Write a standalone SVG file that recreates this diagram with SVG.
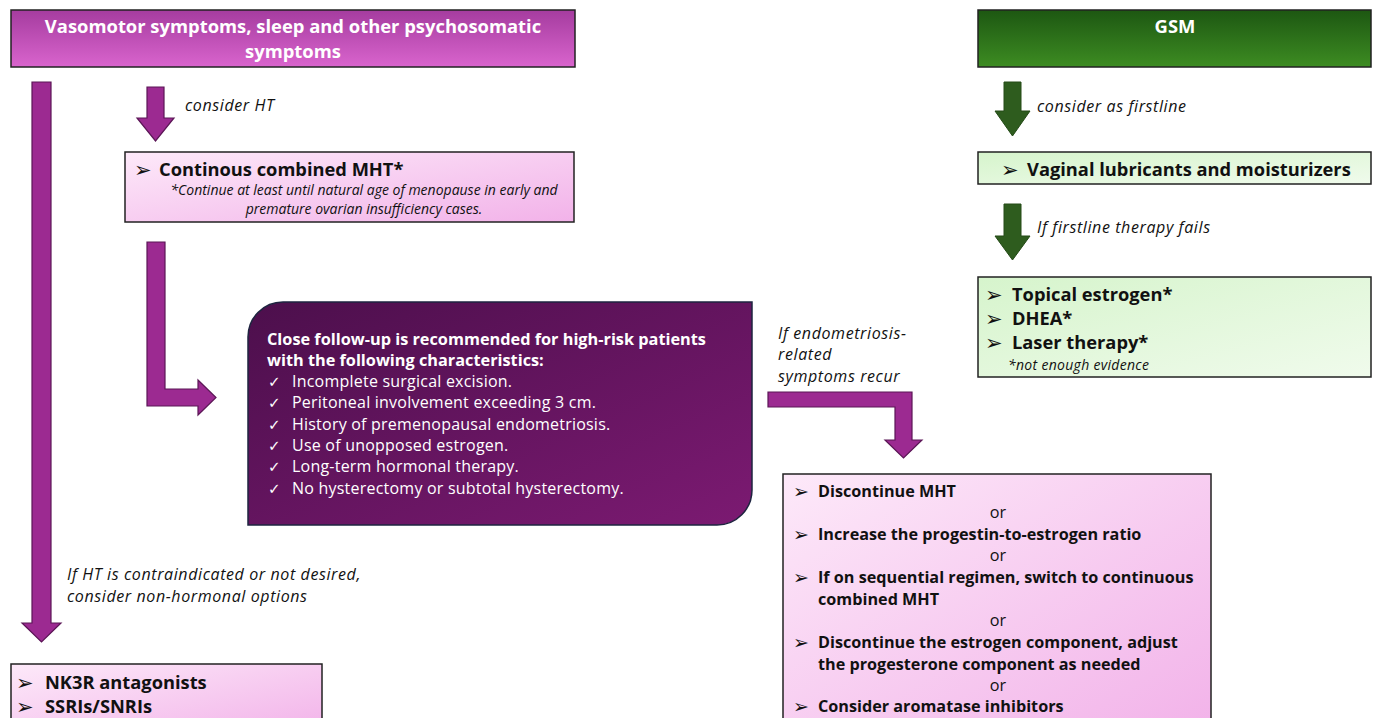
<svg xmlns="http://www.w3.org/2000/svg" width="1378" height="718" viewBox="0 0 1378 718">
<defs>
<linearGradient id="gHead" x1="0" y1="0" x2="0" y2="1"><stop offset="0" stop-color="#a53c9f"/><stop offset="1" stop-color="#d964cd"/></linearGradient>
<linearGradient id="gGreen" x1="0" y1="0" x2="0" y2="1"><stop offset="0" stop-color="#1d5712"/><stop offset="1" stop-color="#3d8c22"/></linearGradient>
<linearGradient id="gPink" x1="0" y1="0" x2="1" y2="1"><stop offset="0" stop-color="#fde9f9"/><stop offset="1" stop-color="#f2b2e9"/></linearGradient>
<linearGradient id="gLight" x1="0" y1="0" x2="1" y2="1"><stop offset="0" stop-color="#d6f4cc"/><stop offset="1" stop-color="#f0fbec"/></linearGradient>
<linearGradient id="gDark" x1="0" y1="0" x2="1" y2="1"><stop offset="0" stop-color="#4c0f4c"/><stop offset="1" stop-color="#7c1a72"/></linearGradient>
</defs>
<style>
.box{stroke:#222;stroke-width:1.5}
.ap{fill:#9c2a91;stroke:#5b1656;stroke-width:1.2}
.ag{fill:#2e5c1e;stroke:#244a17;stroke-width:1}
.t{font-family:"Open Sans","Liberation Sans",Arial,sans-serif;fill:#111}
.b{font-weight:bold}
.i{font-style:italic}
.w{fill:#fff}
.lbl{font-size:16px;letter-spacing:0.6px}
.bul{font-family:"DejaVu Sans",sans-serif;fill:#111}
.chk{font-family:"DejaVu Sans",sans-serif;fill:#fff}
.big{font-size:18.3px}
</style>

<g id="connectors">
  <polygon class="ap" points="32,82 51,82 51,623 61,623 41.5,642 22,623 32,623"/>
  <polygon class="ap" points="147,87 164,87 164,118 174,118 155.5,141 137,118 147,118"/>
  <polygon class="ap" points="147,242 165,242 165,389 198,389 198,380 216,397.5 198,415 198,406 147,406"/>
  <polygon class="ap" points="768,392 912,392 912,440 922,440 903.5,458 885,440 895,440 895,407 768,407"/>
  <polygon class="ag" points="1004,82 1021,82 1021,111 1030,111 1012.5,136 995,111 1004,111"/>
  <polygon class="ag" points="1004,204 1021,204 1021,236 1030,236 1012.5,260 995,236 1004,236"/>
  <text class="t i lbl" x="185" y="111">consider HT</text>
  <text class="t i lbl" x="67" y="580">If HT is contraindicated or not desired,</text>
  <text class="t i lbl" x="67" y="602">consider non-hormonal options</text>
  <text class="t i lbl" x="778" y="339">If endometriosis-</text>
  <text class="t i lbl" x="778" y="360">related</text>
  <text class="t i lbl" x="778" y="382">symptoms recur</text>
  <text class="t i lbl" x="1037" y="112">consider as firstline</text>
  <text class="t i lbl" x="1037" y="233">If firstline therapy fails</text>
</g>

<g id="vasomotor">
  <rect class="box" x="11" y="10" width="564" height="57" fill="url(#gHead)"/>
  <text class="t b w" x="293" y="33" font-size="18.4" text-anchor="middle">Vasomotor symptoms, sleep and other psychosomatic</text>
  <text class="t b w" x="293" y="58" font-size="18.4" text-anchor="middle">symptoms</text>
</g>

<g id="gsm">
  <rect class="box" x="978" y="10" width="393" height="57" fill="url(#gGreen)"/>
  <text class="t b w" x="1175" y="33" font-size="18.4" text-anchor="middle">GSM</text>
</g>

<g id="mht">
  <rect class="box" x="125" y="152" width="449" height="70" fill="url(#gPink)"/>
  <text class="bul" x="134" y="177" font-size="21">➢</text>
  <text class="t b big" x="159" y="176">Continous combined MHT*</text>
  <text class="t i" x="364" y="195" font-size="14" text-anchor="middle">*Continue at least until natural age of menopause in early and</text>
  <text class="t i" x="364" y="214" font-size="14" text-anchor="middle">premature ovarian insufficiency cases.</text>
</g>

<g id="followup">
  <path d="M283,302 H752 V490 A35,35 0 0 1 717,525 H248 V337 A35,35 0 0 1 283,302 Z" fill="url(#gDark)" stroke="#1e2440" stroke-width="1.5"/>
  <text class="t b w" x="267" y="345" font-size="16.3">Close follow-up is recommended for high-risk patients</text>
  <text class="t b w" x="267" y="366" font-size="16.3">with the following characteristics:</text>
  <g font-size="16">
    <text class="chk" x="268" y="387" font-size="15">✓</text><text class="t w" x="292" y="387" letter-spacing="0.22">Incomplete surgical excision.</text>
    <text class="chk" x="268" y="408" font-size="15">✓</text><text class="t w" x="292" y="408" letter-spacing="0.22">Peritoneal involvement exceeding 3 cm.</text>
    <text class="chk" x="268" y="430" font-size="15">✓</text><text class="t w" x="292" y="430" letter-spacing="0.22">History of premenopausal endometriosis.</text>
    <text class="chk" x="268" y="451" font-size="15">✓</text><text class="t w" x="292" y="451" letter-spacing="0.22">Use of unopposed estrogen.</text>
    <text class="chk" x="268" y="472" font-size="15">✓</text><text class="t w" x="292" y="472" letter-spacing="0.22">Long-term hormonal therapy.</text>
    <text class="chk" x="268" y="494" font-size="15">✓</text><text class="t w" x="292" y="494" letter-spacing="0.22">No hysterectomy or subtotal hysterectomy.</text>
  </g>
</g>

<g id="recur-options">
  <rect class="box" x="783" y="474" width="428" height="260" fill="url(#gPink)"/>
  <g font-size="16.2">
    <text class="bul" x="793" y="498" font-size="19">➢</text><text class="t b" x="818" y="497">Discontinue MHT</text>
    <text class="t" x="998" y="518" text-anchor="middle">or</text>
    <text class="bul" x="793" y="541" font-size="19">➢</text><text class="t b" x="818" y="540">Increase the progestin-to-estrogen ratio</text>
    <text class="t" x="998" y="561" text-anchor="middle">or</text>
    <text class="bul" x="793" y="584" font-size="19">➢</text><text class="t b" x="818" y="583">If on sequential regimen, switch to continuous</text>
    <text class="t b" x="818" y="605">combined MHT</text>
    <text class="t" x="998" y="626" text-anchor="middle">or</text>
    <text class="bul" x="793" y="649" font-size="19">➢</text><text class="t b" x="818" y="648">Discontinue the estrogen component, adjust</text>
    <text class="t b" x="818" y="670">the progesterone component as needed</text>
    <text class="t" x="998" y="691" text-anchor="middle">or</text>
    <text class="bul" x="793" y="713" font-size="19">➢</text><text class="t b" x="818" y="712">Consider aromatase inhibitors</text>
  </g>
</g>

<g id="nonhormonal">
  <rect class="box" x="11" y="664" width="311" height="70" fill="url(#gPink)"/>
  <text class="bul" x="16" y="690" font-size="21">➢</text><text class="t b big" x="45" y="689">NK3R antagonists</text>
  <text class="bul" x="16" y="714" font-size="21">➢</text><text class="t b big" x="45" y="713">SSRIs/SNRIs</text>
</g>

<g id="vaginal">
  <rect class="box" x="978" y="152" width="393" height="32" fill="url(#gLight)"/>
  <text class="bul" x="1001" y="177" font-size="21">➢</text>
  <text class="t b big" x="1027" y="176">Vaginal lubricants and moisturizers</text>
</g>

<g id="second-line">
  <rect class="box" x="978" y="277" width="393" height="100" fill="url(#gLight)"/>
  <text class="bul" x="985" y="302" font-size="21">➢</text><text class="t b big" x="1012" y="301">Topical estrogen*</text>
  <text class="bul" x="985" y="326" font-size="21">➢</text><text class="t b big" x="1012" y="325">DHEA*</text>
  <text class="bul" x="985" y="350" font-size="21">➢</text><text class="t b big" x="1012" y="349">Laser therapy*</text>
  <text class="t i" x="1008" y="370" font-size="14" letter-spacing="0.3">*not enough evidence</text>
</g>
</svg>
